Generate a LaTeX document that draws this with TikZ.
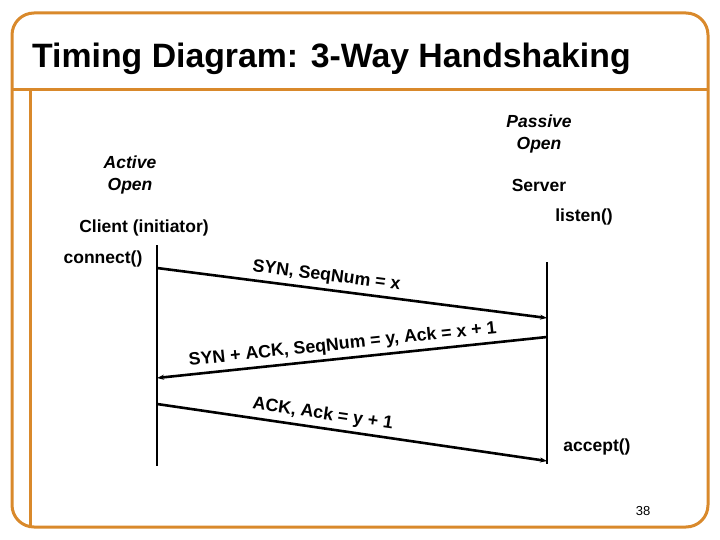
\documentclass[tikz,border=0pt]{standalone}
\usepackage{fontspec}
\setmainfont{Liberation Sans}
\usetikzlibrary{arrows.meta}
\definecolor{frameor}{HTML}{D9892B}
\begin{document}
\begin{tikzpicture}[x=1pt,y=-1pt,
  lbl/.style={font=\fontsize{17.5}{21}\selectfont\bfseries, inner sep=1pt, align=center},
  ilbl/.style={font=\fontsize{17.5}{22}\selectfont\bfseries\itshape, inner sep=1pt, align=center},
  tline/.style={line width=2.4pt},
  msg/.style={line width=2.6pt, -{Stealth[length=7pt,width=5pt]}},
  msgtxt/.style={font=\fontsize{17.8}{21}\selectfont\bfseries, sloped, above=3pt, inner sep=1pt}
]
\useasboundingbox (0,0) rectangle (720,540);
% frame
\draw[frameor, line width=3pt, rounded corners=22pt] (12,13) rectangle (708,527);
\draw[frameor, line width=3pt] (12,90) -- (708,90);
\draw[frameor, line width=3pt] (30,90) -- (30,527);
% title
\node[anchor=west, font=\fontsize{33.8}{40}\selectfont\bfseries, inner sep=0pt] (title) at (32,59) {Timing Diagram: 3-Way Handshaking};
% labels
\node[ilbl] (passive) at (539,134) {Passive\\Open};
\node[ilbl] (active) at (130,175) {Active\\Open};
\node[lbl] (server) at (539,185) {Server};
\node[lbl] (client) at (144,228) {Client (initiator)};
\node[lbl] (listen) at (584,217) {listen()};
\node[lbl] (connect) at (103,259) {connect()};
\node[lbl] (accept) at (597,447) {accept()};
\node[font=\fontsize{13}{15}\selectfont, inner sep=0pt] (pnum) at (643,511) {38};
% time lines
\coordinate (ctop) at (157,245);
\coordinate (cbot) at (157,466);
\coordinate (stop) at (547,262);
\coordinate (sbot) at (547,464);
\draw[tline] (ctop) -- (cbot);
\draw[tline] (stop) -- (sbot);
% message endpoints
\coordinate (a1s) at (157,268);
\coordinate (a1e) at (547,318);
\coordinate (a2s) at (547,337);
\coordinate (a2e) at (157,378);
\coordinate (a3s) at (157,404);
\coordinate (a3e) at (547,461);
\draw[msg] (a1s) -- node[msgtxt, pos=0.43] (m1) {SYN, SeqNum = x} (a1e);
\draw[msg] (a2s) -- node[msgtxt, pos=0.52] (m2) {SYN + ACK, SeqNum = y, Ack = x + 1} (a2e);
\draw[msg] (a3s) -- node[msgtxt, pos=0.42] (m3) {ACK, Ack = y + 1} (a3e);
\end{tikzpicture}
\end{document}
